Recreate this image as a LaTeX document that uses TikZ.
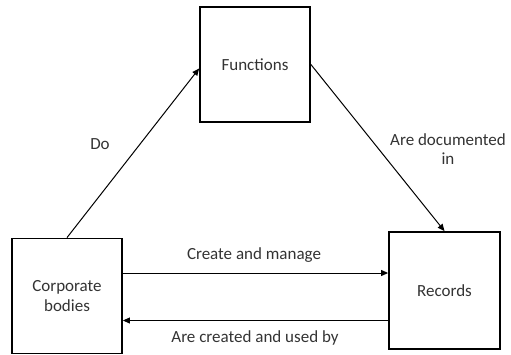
\documentclass[tikz,border=0pt]{standalone}
\usepackage{fontspec}
\setmainfont{Carlito}
\usetikzlibrary{positioning}
\usetikzlibrary{arrows.meta}

\begin{document}
\begin{tikzpicture}[
    x=1pt, y=-1pt,
    entity/.style={draw, line width=1.8pt, minimum width=110pt, minimum height=115pt, inner sep=0pt,
                   align=center, text=black!80, font=\fontsize{17}{20}\selectfont},
    link/.style={-{Triangle[length=7pt,width=6pt]}, line width=1pt},
    lbl/.style={text=black!80, align=center, font=\fontsize{17}{19}\selectfont}
]
    \useasboundingbox (0,0) rectangle (511,354);

    % Boxes
    \node[entity] (fun) at (255,64.5) {Functions};
    \node[entity] (corp) at (67,296) {Corporate\\bodies};
    \node[entity, minimum width=111pt, minimum height=117pt] (rec) at (444.5,290.5) {Records};

    % Connectors
    \draw[link] (corp.north) -- ([yshift=-4pt]fun.west);
    \draw[link] (fun.east) -- (rec.north);
    \draw[link] ([yshift=23pt]corp.east) -- ([yshift=23pt]corp.east -| rec.west);
    \draw[link] ([yshift=-30pt]rec.west) -- ([yshift=-30pt]rec.west -| corp.east);

    % Labels
    \node[lbl] (ldo) at (100,144) {Do};
    \node[lbl] (ldoc) at (448,149) {Are documented\\in};
    \node[lbl] (lcreate) at (254,255) {Create and manage};
    \node[lbl] (lused) at (255,338) {Are created and used by};
\end{tikzpicture}
\end{document}
